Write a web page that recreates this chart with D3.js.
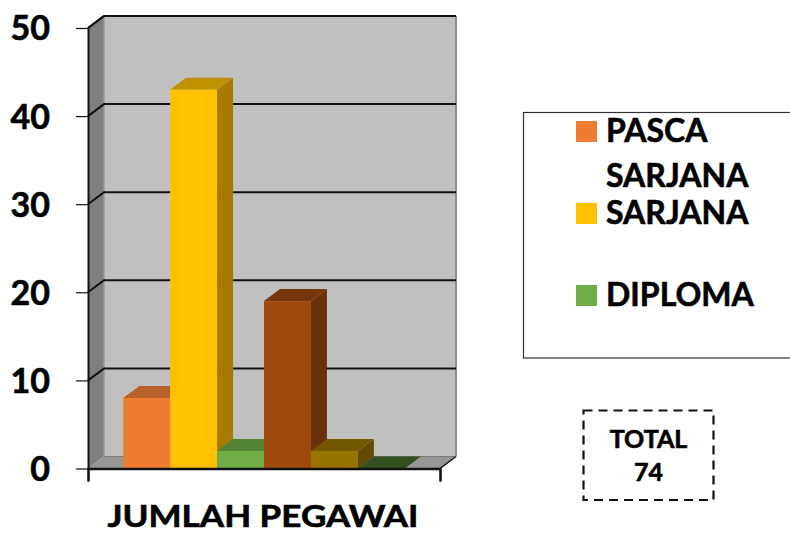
<!DOCTYPE html>
<html><head><meta charset="utf-8">
<script src="https://cdn.jsdelivr.net/npm/d3@7/dist/d3.min.js"></script>
<style>html,body{margin:0;padding:0;background:#fff;overflow:hidden}svg{display:block}text{font-family:Lato,"Open Sans",sans-serif;font-weight:700;fill:#000;stroke:#000;stroke-width:.6px}</style>
</head><body><svg id="c" width="790" height="533"></svg>
<script>
const categories = ["PASCA SARJANA","SARJANA","DIPLOMA","S1","S2","S3"];
const values = [8,43,2,19,2,0];
const tickValues = [0,10,20,30,40,50];
const axisTitle = "JUMLAH PEGAWAI";
const legendItems = ["PASCA SARJANA","SARJANA","DIPLOMA"];
const frontColors = ["#ed7d31","#ffc000","#70ad47","#9e480e","#997300","#43682b"];
const topColors = ["#b8612a","#bf9000","#548235","#78360b","#735700","#324f20"];
const sideColors = ["#9e5420","#a67c00","#4a7030","#69300a","#634a00","#2b431c"];
const totalLines = ["TOTAL","74"];

const svg = d3.select("#c");
const L=88,R=440,B=468.5,T=28,dx=16,dy=-12;
const y = d3.scaleLinear().domain([0,50]).range([B,T]);
const gap = (R-L)/(categories.length+1.5)*0.75;
const x = d3.scaleBand().domain(categories).range([L+gap,R-gap]).padding(0);
const poly = p => p.map(a=>a.join(",")).join(" ");

// walls
svg.append("polygon").attr("points",poly([[L,B],[L,T],[L+dx,T+dy],[L+dx,B+dy]])).attr("fill","#7f7f7f");
svg.append("polygon").attr("points",poly([[L+dx,B+dy],[L+dx,T+dy],[R+dx,T+dy],[R+dx,B+dy]])).attr("fill","#c0c0c0");
svg.append("polygon").attr("points",poly([[L,B],[L+dx,B+dy],[R+dx,B+dy],[R,B]])).attr("fill","#969696");
svg.append("line").attr("x1",L+dx).attr("x2",L+dx).attr("y1",T+dy).attr("y2",B+dy).attr("stroke","#9a9a9a").attr("stroke-width",1.5);
svg.append("line").attr("x1",R+dx).attr("x2",R+dx).attr("y1",T+dy).attr("y2",B+dy).attr("stroke","#8f8f8f").attr("stroke-width",2);
svg.append("line").attr("x1",L+dx).attr("x2",R+dx).attr("y1",B+dy).attr("y2",B+dy).attr("stroke","#7a7a7a").attr("stroke-width",1);

// gridlines
svg.append("g").selectAll("path").data(tickValues.filter(d=>d>0)).join("path")
  .attr("d",d=>`M${L},${y(d)}L${L+dx},${y(d)+dy}L${R+dx},${y(d)+dy}`)
  .attr("fill","none").attr("stroke","#111").attr("stroke-width",2);

// bars
const bars = svg.append("g").selectAll("g").data(categories.map((c,i)=>({c,v:values[i],i}))).join("g");
bars.append("polygon").attr("points",d=>{const a=x(d.c)+x.bandwidth(),t=y(d.v);
  return poly([[a,B],[a,t],[a+dx,t+dy],[a+dx,B+dy]]);}).attr("fill",d=>sideColors[d.i]);
bars.append("polygon").attr("points",d=>{const a=x(d.c),b=a+x.bandwidth(),t=y(d.v);
  return poly([[a,t],[a+dx,t+dy],[b+dx,t+dy],[b,t]]);}).attr("fill",d=>topColors[d.i]);
bars.append("rect").attr("x",d=>x(d.c)).attr("y",d=>y(d.v)).attr("width",x.bandwidth())
  .attr("height",d=>B-y(d.v)).attr("fill",d=>frontColors[d.i]);

// y axis
const yAxis = svg.append("g").attr("transform",`translate(${L},0)`)
  .call(d3.axisLeft(y).tickValues(tickValues).tickSize(12).tickPadding(26).tickSizeOuter(0));
yAxis.select(".domain").attr("stroke","#111").attr("stroke-width",2);
yAxis.selectAll(".tick line").attr("stroke","#111").attr("stroke-width",1.2);
yAxis.selectAll("text").style("font-size","34px").style("font-family",'Lato,sans-serif').style("font-weight",700).attr("fill","#000").attr("dy","0.35em");

// x axis
const xEdge = d3.scaleLinear().domain([0,1]).range([L,R]);
const xAxis = svg.append("g").attr("transform",`translate(0,${B})`)
  .call(d3.axisBottom(xEdge).tickValues([0,1]).tickSize(13).tickFormat(""));
xAxis.select(".domain").attr("stroke","#111").attr("stroke-width",2.5);
xAxis.selectAll(".tick line").attr("stroke","#111").attr("stroke-width",1.2);
svg.append("polyline").attr("points",poly([[R,B],[R+dx,B+dy]])).attr("fill","none").attr("stroke","#111").attr("stroke-width",1.5);
svg.append("polyline").attr("points",poly([[L,T],[L+dx,T+dy],[R+dx,T+dy]])).attr("fill","none").attr("stroke","#111").attr("stroke-width",2);

svg.append("text").attr("x",263).attr("y",527).attr("text-anchor","middle")
  .attr("textLength",311).attr("lengthAdjust","spacingAndGlyphs").style("font-size","30px").text(axisTitle);

// legend
svg.append("rect").attr("x",523.5).attr("y",112.5).attr("width",300).attr("height",245.5)
  .attr("fill","#fff").attr("stroke","#333").attr("stroke-width",1.2);
const legY = d3.scalePoint().domain(legendItems).range([121,285]);
svg.append("g").selectAll("rect").data(legendItems).join("rect")
  .attr("x",576).attr("y",d=>legY(d)).attr("width",21).attr("height",21).attr("fill",(d,i)=>frontColors[i]);
const lg = svg.append("g").style("font-size","32px").attr("transform","translate(606,0)");
const words = d => d.split(" ");
legendItems.forEach(d=>{
  words(d).forEach((w,j)=>{
    lg.append("text").attr("x",0).attr("y",legY(d)+21+j*45).text(w);
  });
});

// total box
svg.append("rect").attr("x",583.5).attr("y",410.5).attr("width",130).attr("height",89.5)
  .attr("fill","none").attr("stroke","#111").attr("stroke-width",2.2).attr("stroke-dasharray","9 6");
svg.append("g").selectAll("text").data(totalLines).join("text")
  .attr("x",648.5).attr("y",(d,i)=>448+i*33).attr("text-anchor","middle").style("font-size","25px").text(d=>d);
</script></body></html>
